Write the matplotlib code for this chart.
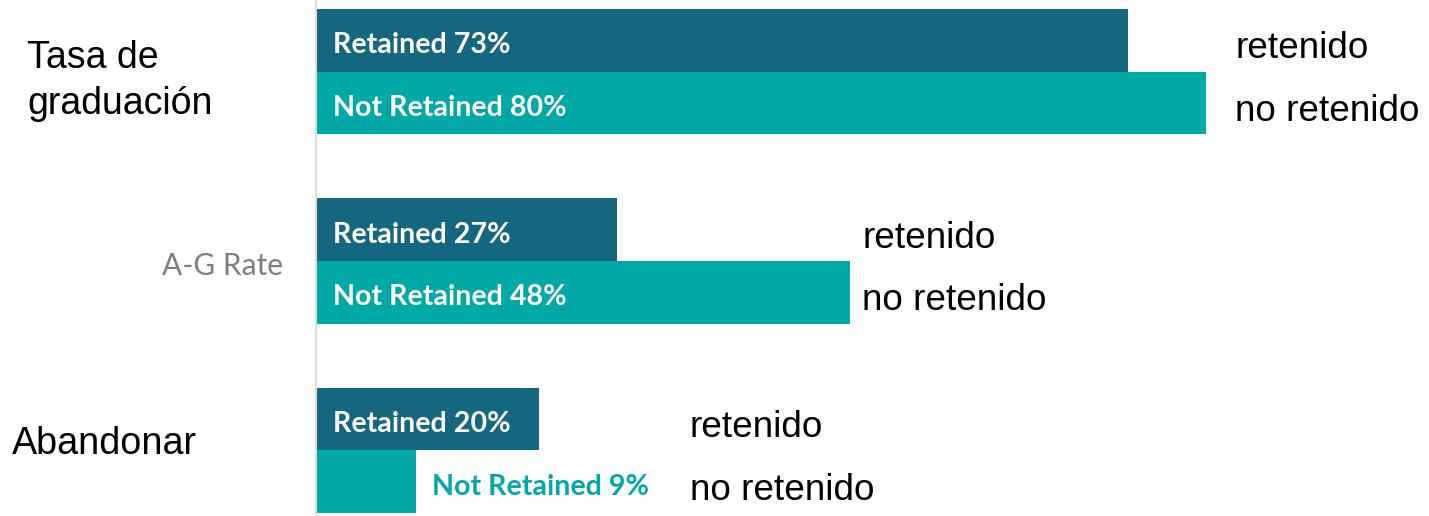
import numpy as np
import matplotlib
matplotlib.use("Agg")
import matplotlib.pyplot as plt

# datos
groups = ["Tasa de\ngraduación", "A-G Rate", "Abandonar"]
series = ["Retained", "Not Retained"]
retained = [73, 27, 20]
not_retained = [80, 48, 9]
side_labels = ["retenido", "no retenido"]

# estilo / posiciones
dark = "#14677E"
light = "#00A8A6"
gap = 3.025                      # separacion entre grupos (en alturas de barra)
side_x = [82.6, 49.1, 33.6]      # x de las etiquetas "retenido" en cada grupo
group_label_style = [
    dict(x=-0.2597, dy=0.15, ha="left", color="black", family="Liberation Sans", size=27),
    dict(x=-0.0297, dy=0.08, ha="right", color="#7F7F7F", family="Lato", size=21.5),
    dict(x=-0.2731, dy=-0.1, ha="left", color="black", family="Liberation Sans", size=27.2),
]

fig = plt.figure(figsize=(14.29, 5.16), dpi=100)
ax = fig.add_axes([316 / 1429, 0, 1113 / 1429, 1])

centers = np.arange(len(groups)) * gap
ax.barh(centers - 0.5, retained, height=1.0, color=dark)
ax.barh(centers + 0.5, not_retained, height=1.0, color=light)

for i, c in enumerate(centers):
    for j, (val, y) in enumerate([(retained[i], c - 0.5), (not_retained[i], c + 0.5)]):
        txt = f"{series[j]} {val}%"
        if val >= 15:
            ax.text(1.5, y + 0.04, txt, color="white", fontweight="bold", family="Lato",
                    fontsize=20.6, va="center_baseline")
        else:
            ax.text(val + 1.4, y + 0.04, txt, color=light, fontweight="bold", family="Lato",
                    fontsize=20.6, va="center_baseline")
        ax.text(side_x[i], y + 0.07, side_labels[j], color="black",
                family="Liberation Sans", fontsize=26.6, va="center_baseline")

    st = group_label_style[i]
    ax.text(st["x"], c + st["dy"], groups[i], transform=ax.get_yaxis_transform(),
            ha=st["ha"], va="center", color=st["color"], family=st["family"],
            fontsize=st["size"], linespacing=1.33, clip_on=False)

ax.set_xlim(0, 100)
ax.set_ylim(centers[-1] + 1 + 0.048, -1.143)
for s in ["top", "right", "bottom"]:
    ax.spines[s].set_visible(False)
ax.spines["left"].set_color("#DCDCDC")
ax.spines["left"].set_linewidth(1.5)
ax.set_xticks([])
ax.set_yticks([])

fig.savefig("out.png", dpi=100, facecolor="white")
